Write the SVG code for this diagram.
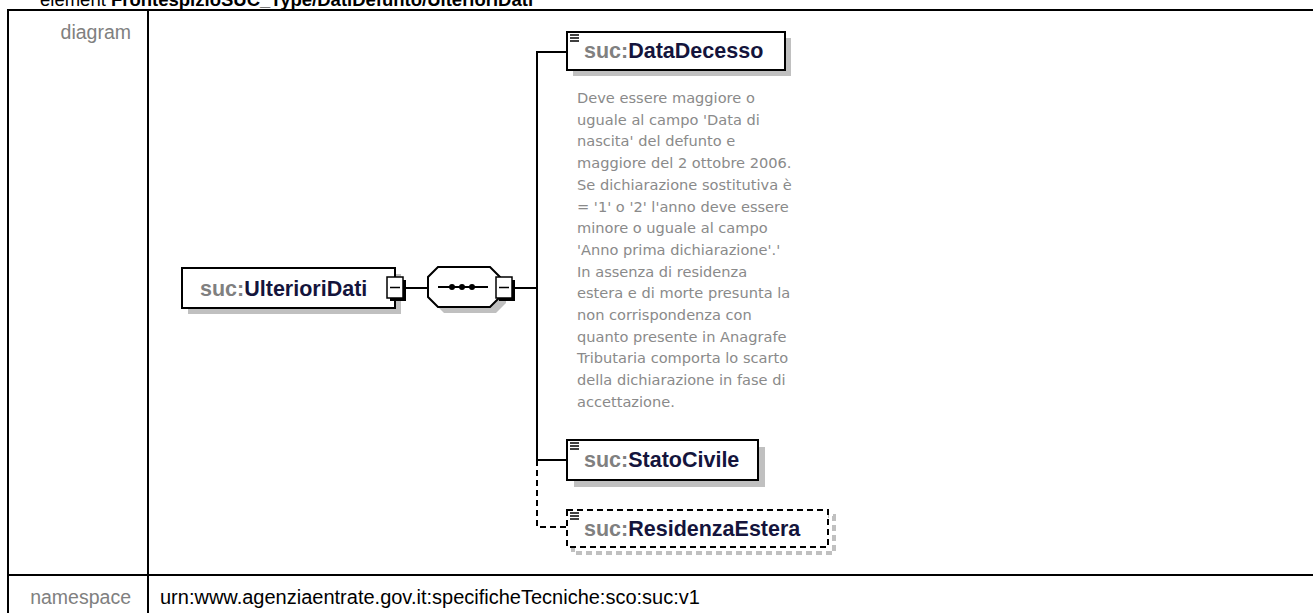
<svg xmlns="http://www.w3.org/2000/svg" width="1313" height="613" viewBox="0 0 1313 613">
<style>
.tbl{stroke:#000;stroke-width:2;fill:none}
.lbl{font-family:"Liberation Sans",Arial,sans-serif;font-size:19.5px;fill:#808080}
.ns{font-family:"Liberation Sans",Arial,sans-serif;font-size:20px;fill:#000}
.title{font-family:"Liberation Sans",Arial,sans-serif;font-size:18.5px;fill:#000}
.box{fill:#fff;stroke:#000;stroke-width:2}
.shadow{fill:#c0c0c0;stroke:none}
.obox{fill:#fff;stroke:#000;stroke-width:2;stroke-dasharray:6,4}
.oshadow{fill:none;stroke:#c0c0c0;stroke-width:4;stroke-dasharray:6,4}
.name{font-family:"Liberation Sans",Arial,sans-serif;font-size:21.5px;font-weight:bold;fill:#14143c}
.pfx{fill:#808080}
.doc{font-family:"DejaVu Sans",Verdana,sans-serif;font-size:14.6px;fill:#8a8a8a}
.conn{stroke:#000;stroke-width:2;fill:none}
.dash{stroke:#000;stroke-width:2;fill:none;stroke-dasharray:6,4}
.mbox{fill:#fff;stroke:#000;stroke-width:1.5}
.icon{stroke:#000;stroke-width:1.5}
</style>
<defs>
<g id="minus">
<rect x="3" y="3" width="16" height="21" fill="#000"/>
<rect x="0" y="0" width="16" height="21" class="mbox"/>
<line x1="3" y1="10.5" x2="13" y2="10.5" stroke="#000" stroke-width="1.5"/>
</g>
<g id="ico">
<line x1="0" y1="0" x2="9" y2="0" class="icon"/>
<line x1="0" y1="3" x2="9" y2="3" class="icon"/>
<line x1="0" y1="6" x2="9" y2="6" class="icon"/>
</g>
</defs>
<rect width="1313" height="613" fill="#fff"/>
<text x="40" y="6" class="title">element <tspan font-weight="bold">FrontespizioSUC_Type/DatiDefunto/UlterioriDati</tspan></text>
<g id="table">
<line x1="8" y1="10" x2="1313" y2="10" class="tbl"/>
<line x1="8" y1="575" x2="1313" y2="575" class="tbl"/>
<line x1="8" y1="9" x2="8" y2="613" class="tbl"/>
<line x1="148" y1="9" x2="148" y2="613" class="tbl"/>
<text x="131" y="39" class="lbl" text-anchor="end">diagram</text>
<text x="131" y="604" class="lbl" text-anchor="end">namespace</text>
<text x="160" y="604" class="ns">urn:www.agenziaentrate.gov.it:specificheTecniche:sco:suc:v1</text>
</g>
<g id="connectors">
<line x1="406" y1="288" x2="428" y2="288" class="conn"/>
<line x1="515" y1="288" x2="537" y2="288" class="conn"/>
<polyline points="567,52 537,52 537,460 567,460" class="conn"/>
<polyline points="537,460 537,527 567,527" class="dash"/>
</g>
<g id="UlterioriDati">
<rect x="188" y="274" width="213" height="40" class="shadow"/>
<rect x="182" y="268" width="213" height="40" class="box"/>
<text x="200" y="296" class="name"><tspan class="pfx">suc:</tspan>UlterioriDati</text>
<use href="#minus" x="387" y="277"/>
</g>
<g id="sequence">
<polygon points="444,273 496,273 506,283 506,303 496,313 444,313 434,303 434,283" class="shadow"/>
<polygon points="438,267 490,267 500,277 500,297 490,307 438,307 428,297 428,277" class="box"/>
<line x1="438" y1="287" x2="488" y2="287" stroke="#000" stroke-width="2"/>
<circle cx="452" cy="287" r="3"/>
<circle cx="462" cy="287" r="3"/>
<circle cx="472" cy="287" r="3"/>
<use href="#minus" x="496" y="277"/>
</g>
<g id="DataDecesso">
<rect x="573" y="38" width="218" height="38" class="shadow"/>
<rect x="567" y="32" width="218" height="38" class="box"/>
<use href="#ico" x="570" y="35"/>
<text x="584" y="58" class="name"><tspan class="pfx">suc:</tspan>DataDecesso</text>
<text class="doc">
<tspan x="577" y="103">Deve essere maggiore o</tspan>
<tspan x="577" y="124.7">uguale al campo 'Data di</tspan>
<tspan x="577" y="146.4">nascita' del defunto e</tspan>
<tspan x="577" y="168.1">maggiore del 2 ottobre 2006.</tspan>
<tspan x="577" y="189.8">Se dichiarazione sostitutiva è</tspan>
<tspan x="577" y="211.5">= '1' o '2' l'anno deve essere</tspan>
<tspan x="577" y="233.2">minore o uguale al campo</tspan>
<tspan x="577" y="254.9">'Anno prima dichiarazione'.'</tspan>
<tspan x="577" y="276.6">In assenza di residenza</tspan>
<tspan x="577" y="298.3">estera e di morte presunta la</tspan>
<tspan x="577" y="320">non corrispondenza con</tspan>
<tspan x="577" y="341.7">quanto presente in Anagrafe</tspan>
<tspan x="577" y="363.4">Tributaria comporta lo scarto</tspan>
<tspan x="577" y="385.1">della dichiarazione in fase di</tspan>
<tspan x="577" y="406.8">accettazione.</tspan>
</text>
</g>
<g id="StatoCivile">
<rect x="574" y="447" width="191" height="40" class="shadow"/>
<rect x="567" y="440" width="191" height="40" class="box"/>
<use href="#ico" x="570" y="443"/>
<text x="584" y="467" class="name"><tspan class="pfx">suc:</tspan>StatoCivile</text>
</g>
<g id="ResidenzaEstera">
<rect x="573" y="516" width="261" height="37" class="oshadow"/>
<rect x="567" y="510" width="261" height="37" class="obox"/>
<use href="#ico" x="570" y="513"/>
<text x="584" y="536" class="name"><tspan class="pfx">suc:</tspan>ResidenzaEstera</text>
</g>
</svg>
